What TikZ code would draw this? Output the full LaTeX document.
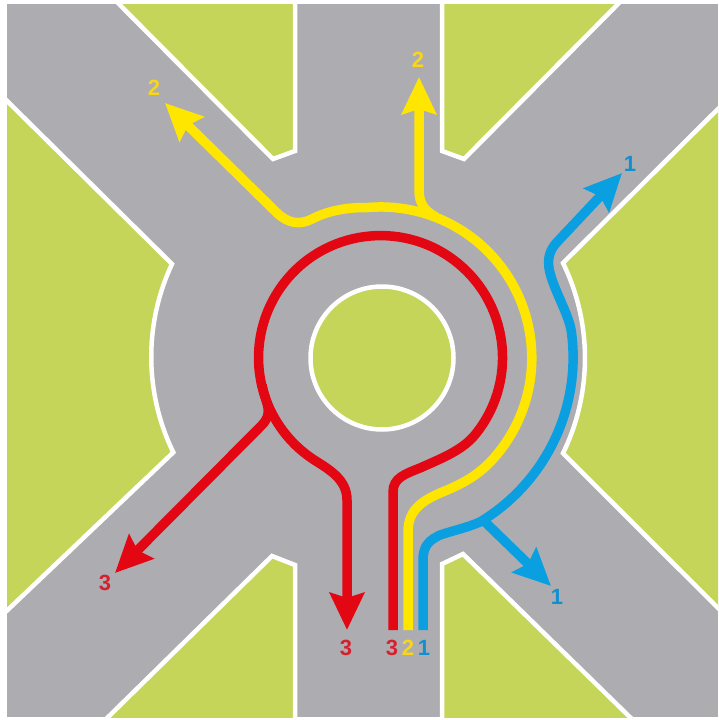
\documentclass[tikz,border=0pt]{standalone}
\usepackage{fontspec}
\setsansfont{Liberation Sans}
\usetikzlibrary{arrows.meta}
\definecolor{roadgray}{HTML}{ADADB1}
\definecolor{grassgreen}{HTML}{C4D55A}
\definecolor{lanered}{HTML}{E30613}
\definecolor{laneyellow}{HTML}{FFE600}
\definecolor{laneblue}{HTML}{0A9FE0}
\definecolor{numred}{HTML}{D7202E}
\definecolor{numyellow}{HTML}{F9D616}
\definecolor{numblue}{HTML}{1090D0}
\tikzset{
    grass/.style={fill=grassgreen, draw=white, line width=4.5pt, line join=miter},
    lane/.style={line width=9.5pt, line cap=butt},
    lanearrow/.style={lane, -{Stealth[length=37pt,width=34pt,inset=5pt]}},
    lanenum/.style={font=\sffamily\bfseries\fontsize{22}{22}\selectfont, inner sep=0pt},
}
\begin{document}
\begin{tikzpicture}[x=1pt, y=-1pt]
    \useasboundingbox (0,0) rectangle (718,720);
    \fill[roadgray] (7,4) rectangle (718,717);
    \begin{scope}
        \clip (7,4) rectangle (718,717);
        % corner pieces
        \draw[grass] (113,-2) -- (273,159) -- (295,151) -- (295,-2) -- cycle;
        \draw[grass] (442,-2) -- (442,151) -- (464,159) -- (624,-2) -- cycle;
        \draw[grass] (100,725) -- (272,556) -- (295,565) -- (295,725) -- cycle;
        \draw[grass] (442,725) -- (442,564) -- (463,554) -- (638,725) -- cycle;
        % side pieces, with the arcs of the junction
        \draw[grass] (-5,89) -- (172,264) arc[start angle=205.2, end angle=154, radius=218] -- (-5,622) -- cycle;
        \draw[grass] (725,102) -- (563,263) arc[start angle=-26, end angle=26, radius=217] -- (725,615) -- cycle;
    \end{scope}
    % island
    \draw[grass] (382,358) circle (71.5);

    % lane 3
    \coordinate (redStart) at (393,630);
    \coordinate (redFork) at (262,385);
    \coordinate (redLeft) at (115,573);
    \coordinate (redDown) at (347,630);
    \draw[lanearrow, lanered] (redFork) .. controls (266,405) and (274,412) .. (262,425) -- (redLeft);
    \draw[lanearrow, lanered] (redStart) -- (393,492) .. controls (393,478) and (405,474) .. (420,468)
        .. controls (440,459) and (461,451) .. (474,436)
        arc[start angle=40, end angle=-238, radius=122]
        .. controls (330,470) and (347,480) .. (347,500) -- (redDown);

    % lane 2
    \coordinate (yellowStart) at (408,630);
    \coordinate (yellowFork) at (436,217);
    \coordinate (yellowUp) at (419,77);
    \coordinate (yellowLeft) at (165,103);
    \draw[lanearrow, laneyellow] (yellowFork) .. controls (425,211) and (419,204) .. (419,190) -- (yellowUp);
    \draw[lanearrow, laneyellow] (yellowStart) -- (408,532) .. controls (408,510) and (422,501) .. (440,493)
        .. controls (457,486) and (476,478) .. (493,459)
        arc[start angle=42, end angle=-95, radius=151]
        .. controls (345,207) and (325,212) .. (312,219)
        .. controls (300,225) and (288,224) .. (276,212) -- (yellowLeft);

    % lane 1
    \coordinate (blueStart) at (423,630);
    \coordinate (blueFork) at (483,520);
    \coordinate (blueRight) at (551,586);
    \coordinate (blueUp) at (622,173);
    \draw[lanearrow, laneblue] (blueFork) -- (blueRight);
    \draw[lanearrow, laneblue] (blueStart) -- (423,560) .. controls (423,545) and (430,540) .. (440,535)
        .. controls (455,530) and (466,528) .. (480,522)
        arc[start angle=59, end angle=-8, radius=192]
        .. controls (568,312) and (552,287) .. (549,268)
        .. controls (547,255) and (552,247) .. (559,240) -- (blueUp);

    % numbers
    \node[lanenum, text=numyellow] (numTwoLeft) at (154,88) {2};
    \node[lanenum, text=numyellow] (numTwoUp) at (418,60) {2};
    \node[lanenum, text=numblue] (numOneUp) at (630,164) {1};
    \node[lanenum, text=numblue] (numOneRight) at (557,597) {1};
    \node[lanenum, text=numred] (numThreeLeft) at (105,583) {3};
    \node[lanenum, text=numred] (numThreeDown) at (346,648) {3};
    \node[lanenum, text=numred] (numThreeStart) at (392,648) {3};
    \node[lanenum, text=numyellow] (numTwoStart) at (408,648) {2};
    \node[lanenum, text=numblue] (numOneStart) at (424,648) {1};
\end{tikzpicture}
\end{document}
